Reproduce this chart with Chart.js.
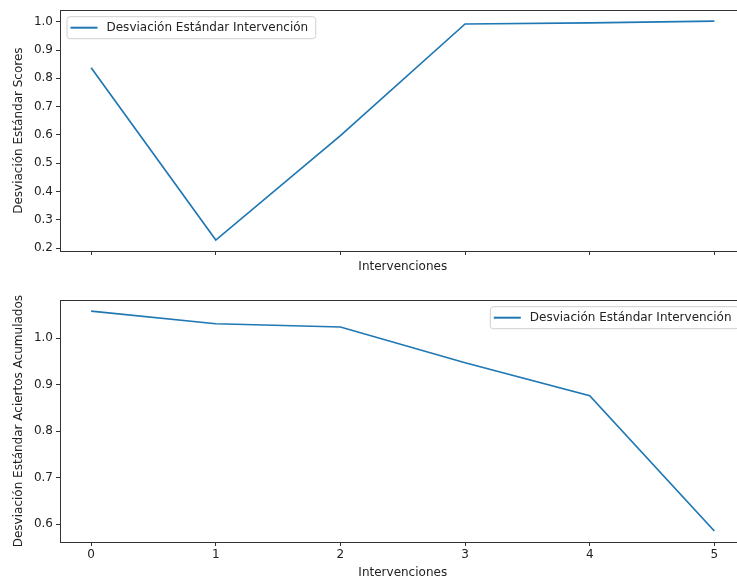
<!DOCTYPE html>
<html>
<head>
<meta charset="utf-8">
<script src="https://cdn.jsdelivr.net/npm/chart.js@4/dist/chart.umd.min.js"></script>
<style>
  html, body { margin: 0; padding: 0; background: #fff; overflow: hidden; }
  #wrap { width: 737px; height: 581px; overflow: hidden; }
  canvas { display: block; }
</style>
</head>
<body>
<div id="wrap">
  <canvas id="scoresChart" width="760" height="290"></canvas>
  <canvas id="aciertosChart" width="760" height="291"></canvas>
</div>
<script>
const interventions = [0, 1, 2, 3, 4, 5];
const stdScores = [0.837, 0.229, 0.598, 0.992, 0.996, 1.002];
const stdAciertos = [1.058, 1.031, 1.024, 0.947, 0.876, 0.585];

const seriesLabel = 'Desviación Estándar Intervención';
const xTitle = 'Intervenciones';
const yTitleTop = 'Desviación Estándar Scores';
const yTitleBottom = 'Desviación Estándar Aciertos Acumulados';

const lineBlue = '#1f77b4';
const FONT = '"DejaVu Sans", sans-serif';
Chart.defaults.font.family = FONT;
Chart.defaults.font.size = 12;
Chart.defaults.color = '#222';

// matplotlib style 5% margins
function padRange(vals) {
  const lo = Math.min(...vals), hi = Math.max(...vals);
  const m = (hi - lo) * 0.05;
  return { min: lo - m, max: hi + m };
}

// spines around the axes + matplotlib-like legend inside the plot
const frameLegend = {
  id: 'frameLegend',
  afterDraw(chart, args, opts) {
    const { ctx, chartArea: a } = chart;
    ctx.save();
    ctx.lineWidth = 1;
    ctx.strokeStyle = '#333';
    ctx.strokeRect(Math.round(a.left) + 0.5, Math.round(a.top) + 0.5,
      Math.round(a.right - a.left), Math.round(a.bottom - a.top));

    const ds = chart.data.datasets[0];
    ctx.font = '12px ' + FONT;
    const tw = ctx.measureText(ds.label).width;
    const w = 4 + 27 + 9 + tw + 7, h = 22;
    const x = opts.side === 'right' ? a.right - 7 - w : a.left + 6.5;
    const y = a.top + 6;
    ctx.beginPath();
    ctx.roundRect(x + 0.5, y + 0.5, w, h, 3);
    ctx.fillStyle = 'rgba(255,255,255,0.8)';
    ctx.fill();
    ctx.strokeStyle = '#d0d0d0';
    ctx.stroke();
    ctx.beginPath();
    ctx.moveTo(x + 4, y + h / 2 + 0.5);
    ctx.lineTo(x + 31, y + h / 2 + 0.5);
    ctx.strokeStyle = ds.borderColor;
    ctx.lineWidth = 2;
    ctx.stroke();
    ctx.fillStyle = '#222';
    ctx.textBaseline = 'middle';
    ctx.fillText(ds.label, x + 40, y + h / 2 + 1);
    ctx.restore();
  }
};

function makeChart(id, values, yTitle, legendSide, showXLabels, xTitlePad) {
  const yr = padRange(values);
  return new Chart(document.getElementById(id), {
    type: 'line',
    data: {
      datasets: [{
        label: seriesLabel,
        data: interventions.map((x, i) => ({ x: x, y: values[i] })),
        borderColor: lineBlue,
        borderWidth: 1.7,
        pointRadius: 0,
        tension: 0,
        fill: false
      }]
    },
    options: {
      responsive: false,
      animation: false,
      layout: { autoPadding: false, padding: { top: 9, right: 14.5, left: 0, bottom: 0 } },
      plugins: {
        legend: { display: false },
        tooltip: { enabled: false },
        frameLegend: { side: legendSide }
      },
      scales: {
        x: {
          type: 'linear',
          min: -0.25,
          max: 5.25,
          ticks: {
            stepSize: 1,
            includeBounds: false,
            padding: 2,
            color: showXLabels ? '#222' : 'rgba(0,0,0,0)'
          },
          grid: { drawOnChartArea: false, tickLength: 4, color: '#333' },
          border: { display: false },
          title: { display: true, text: xTitle, padding: { top: 0, bottom: xTitlePad } },
          afterFit(scale) { scale.height = 39; }
        },
        y: {
          min: yr.min,
          max: yr.max,
          ticks: {
            stepSize: 0.1,
            includeBounds: false,
            padding: 3,
            callback: v => v.toFixed(1)
          },
          grid: { drawOnChartArea: false, tickLength: 4, color: '#333' },
          border: { display: false },
          title: { display: true, text: yTitle, padding: { top: 11.5, bottom: 0 } },
          afterFit(scale) { scale.width = 60; }
        }
      }
    },
    plugins: [frameLegend]
  });
}

makeChart('scoresChart', stdScores, yTitleTop, 'left', false, 16.3);
makeChart('aciertosChart', stdAciertos, yTitleBottom, 'right', true, 0.8);
</script>
</body>
</html>
